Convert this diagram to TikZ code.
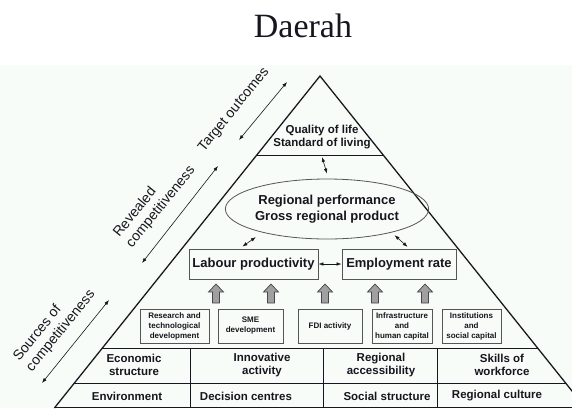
\documentclass[tikz,border=0pt]{standalone}
\usepackage{fontspec}
\setmainfont{Liberation Serif}
\newfontfamily\labelfont{Liberation Sans}
\usetikzlibrary{arrows.meta,shapes.geometric}
\definecolor{paper}{RGB}{248,252,248}
\definecolor{ink}{RGB}{22,22,30}
\definecolor{boxline}{RGB}{85,85,85}
\definecolor{blockfill}{RGB}{160,160,160}
\begin{document}
\begin{tikzpicture}[x=1pt,y=-1pt,
  every node/.style={text=ink, inner sep=0pt, align=center},
  tip/.style={Latex[length=5pt,width=3.6pt]},
  dbl/.style={{Latex[length=5pt,width=3.6pt]}-{Latex[length=5pt,width=3.6pt]}, line width=0.6pt, draw=ink},
  bigbox/.style={draw=boxline, line width=0.9pt, minimum height=30pt,
    font=\labelfont\bfseries\fontsize{13}{15.5}\selectfont},
  smallbox/.style={draw=boxline, line width=0.8pt, minimum height=34pt,
    font=\labelfont\bfseries\fontsize{8}{10}\selectfont},
  tier/.style={font=\labelfont\bfseries\fontsize{11.5}{13}\selectfont},
  side/.style={font=\labelfont\fontsize{14}{16.5}\selectfont, rotate=51, align=left},
  edge/.style={draw=ink, line width=1.3pt},
  rowline/.style={draw=ink, line width=1pt},
  blockarrow/.style={fill=blockfill, draw=ink!80, line width=0.7pt, line join=miter}
]
\useasboundingbox (0,0) rectangle (572,408);
\fill[paper] (0,65) rectangle (572,408);

% title
\node (title) at (303,26) {\fontsize{34}{40}\selectfont Daerah};

% pyramid outline and tier lines
\draw[edge] (54.4,408) -- (320,76) -- (585.6,408);
\draw[rowline] (256.8,155) -- (383.2,155);
\draw[rowline] (102.4,348) -- (537.6,348);
\draw[rowline] (74.4,383) -- (565.6,383);
\draw[rowline] (55.2,407) -- (584.8,407);
\foreach \xx in {190,323,437} \draw[rowline] (\xx,348) -- (\xx,407);

% top tier
\node[tier, font=\labelfont\bfseries\fontsize{11.5}{12.5}\selectfont] (qol) at (322,137) {Quality of life\\Standard of living};
\coordinate (tierline) at (322,155);

% regional performance
\node[ellipse, draw=boxline, line width=0.8pt, minimum width=168pt, minimum height=60pt,
  font=\labelfont\bfseries\fontsize{13}{15.5}\selectfont] (perf) at (327,209)
  {Regional performance\\Gross regional product};

% productivity and employment
\node[bigbox, minimum width=129pt] (labour) at (253.5,264) {Labour productivity};
\node[bigbox, minimum width=114pt] (employ) at (399,264) {Employment rate};

% drivers
\node[smallbox, minimum width=69pt] (rtd)   at (174.5,326) {Research and\\technological\\development};
\node[smallbox, minimum width=65pt] (sme)   at (250.5,326) {SME\\development};
\node[smallbox, minimum width=64pt] (fdi)   at (330,326)   {FDI activity};
\node[smallbox, minimum width=60pt] (infra) at (402,326)   {Infrastructure\\and\\human capital};
\node[smallbox, minimum width=59pt] (inst)  at (471.5,326) {Institutions\\and\\social capital};

% grey block arrows
\foreach \c in {216,271,325,375,425}
  \draw[blockarrow] (\c-3.5,303) -- (\c-3.5,292) -- (\c-7.5,292) -- (\c,284)
    -- (\c+7.5,292) -- (\c+3.5,292) -- (\c+3.5,303) -- cycle;

% sources of competitiveness
\node[tier] (econ)  at (134,365) {Economic\\structure};
\node[tier] (innov) at (262,365) {Innovative\\activity};
\node[tier] (acc)   at (381,365) {Regional\\accessibility};
\node[tier] (skill) at (502,365) {Skills of\\workforce};
\node[tier] (env)   at (127,396) {Environment};
\node[tier] (dec)   at (246,396) {Decision centres};
\node[tier] (soc)   at (387,396) {Social structure};
\node[tier] (cult)  at (497,396) {Regional culture};

% links
\draw[dbl] ([yshift=-2pt]tierline) -- ([yshift=5pt]perf.north);
\draw[dbl, shorten <=8pt, shorten >=3.5pt] (perf.200) -- (labour.132);
\draw[dbl, shorten <=4pt, shorten >=2.5pt] (perf.340) -- (employ.56);
\draw[dbl] (labour.east) -- (employ.west);

% side scales
\coordinate (tA) at (287,82);  \coordinate (tB) at (239,140);
\coordinate (rA) at (218,166); \coordinate (rB) at (142,263);
\coordinate (sA) at (109,300); \coordinate (sB) at (42,383);
\draw[dbl] (tB) -- (tA);
\draw[dbl] (rB) -- (rA);
\draw[dbl] (sB) -- (sA);
\node[side] (target)  at (234,110)     {Target outcomes};
\node[side] (reveal)  at (154.6,201.8) {Revealed\\competitiveness};
\node[side] (sources) at (54.6,325.8)  {Sources of\\competitiveness};
\end{tikzpicture}
\end{document}
